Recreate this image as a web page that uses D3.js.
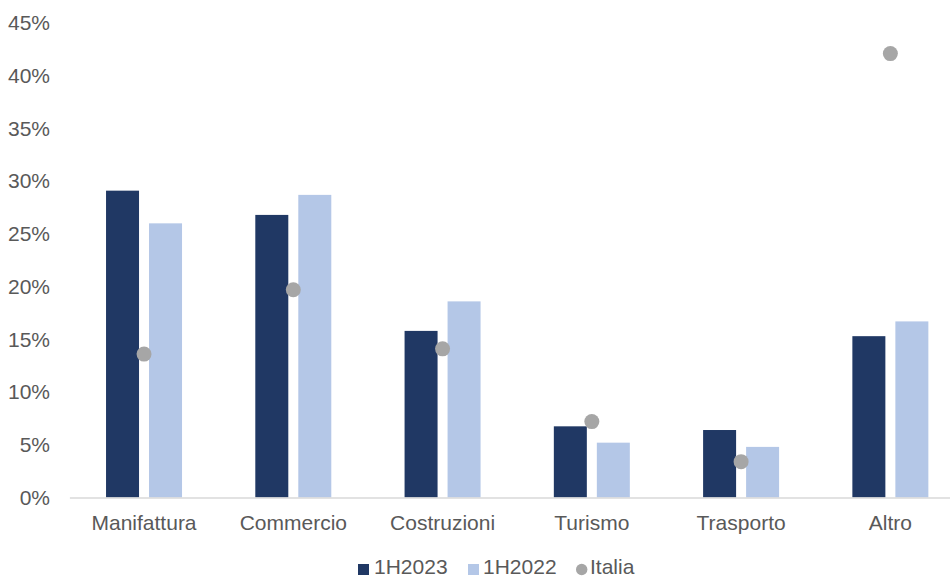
<!DOCTYPE html>
<html>
<head>
<meta charset="utf-8">
<script src="https://cdn.jsdelivr.net/npm/d3@7"></script>
<style>
  html, body { margin: 0; padding: 0; background: #ffffff; }
  svg { display: block; font-family: "Liberation Sans", Arial, sans-serif; }
</style>
</head>
<body>
<svg id="chart" width="950" height="579"></svg>
<script>
// Sector shares (%) by period, with the national reference
const categories = ["Manifattura", "Commercio", "Costruzioni", "Turismo", "Trasporto", "Altro"];
const series = ["1H2023", "1H2022"];
const values1H2023 = [29.1, 26.8, 15.8, 6.75, 6.4, 15.3];
const values1H2022 = [26.0, 28.7, 18.6, 5.2, 4.8, 16.7];
const valuesItalia = [13.6, 19.7, 14.1, 7.2, 3.4, 42.1];
const yTicks = [0, 5, 10, 15, 20, 25, 30, 35, 40, 45];

const colors = { "1H2023": "#203864", "1H2022": "#b4c7e7", "Italia": "#a6a6a6" };
const textColor = "#595959";
const fontSize = "21px";
const fontFamily = "'Liberation Sans', Arial, sans-serif";

const svg = d3.select("#chart");

const x0 = d3.scaleBand().domain(categories).range([69.4, 965]).padding(0);
const x1 = d3.scaleBand().domain(series).range([0, x0.bandwidth()])
  .paddingInner(0.2326).paddingOuter(0.852);
const y = d3.scaleLinear().domain([0, 45]).range([497.5, 23]);

// Y tick labels (no gridlines)
const yAxis = d3.axisLeft(y).tickValues(yTicks).tickFormat(d => d + "%").tickSize(0).tickPadding(0);
const gy = svg.append("g").attr("transform", "translate(50,0)").call(yAxis);
gy.select(".domain").remove();
gy.selectAll("text").attr("fill", textColor).style("font-size", fontSize)
  .style("font-family", fontFamily);

// Bars
const seriesValues = { "1H2023": values1H2023, "1H2022": values1H2022 };
categories.forEach((cat, i) => {
  const g = svg.append("g").attr("transform", `translate(${x0(cat)},0)`);
  series.forEach(s => {
    const v = seriesValues[s][i];
    g.append("rect")
      .attr("x", x1(s))
      .attr("y", y(v))
      .attr("width", x1.bandwidth())
      .attr("height", y(0) - y(v))
      .attr("fill", colors[s]);
  });
});

// Category axis
const xAxis = d3.axisBottom(x0).tickSize(0).tickPadding(18);
const gx = svg.append("g").attr("transform", `translate(0,${y(0)})`).call(xAxis);
gx.select(".domain").attr("stroke", "#d9d9d9").attr("stroke-width", 1.5);
gx.selectAll("text").attr("fill", textColor).style("font-size", fontSize)
  .style("font-family", fontFamily);

// National reference markers
svg.append("g").selectAll("circle")
  .data(categories)
  .join("circle")
  .attr("cx", d => x0(d) + x0.bandwidth() / 2)
  .attr("cy", (d, i) => y(valuesItalia[i]))
  .attr("r", 7.5)
  .attr("fill", colors.Italia);

// Legend
const legend = svg.append("g");
const legendItems = [
  { name: "1H2023", shape: "rect", x: 358, tx: 374 },
  { name: "1H2022", shape: "rect", x: 468, tx: 483 },
  { name: "Italia", shape: "circle", x: 576, tx: 590 }
];
legendItems.forEach(item => {
  if (item.shape === "rect") {
    legend.append("rect").attr("x", item.x).attr("y", 564).attr("width", 11).attr("height", 11)
      .attr("fill", colors[item.name]);
  } else {
    legend.append("circle").attr("cx", item.x + 5.7).attr("cy", 569.5).attr("r", 5.7)
      .attr("fill", colors[item.name]);
  }
  legend.append("text").attr("x", item.tx).attr("y", 574)
    .attr("fill", textColor).style("font-size", fontSize).style("font-family", fontFamily)
    .text(item.name);
});
</script>
</body>
</html>
